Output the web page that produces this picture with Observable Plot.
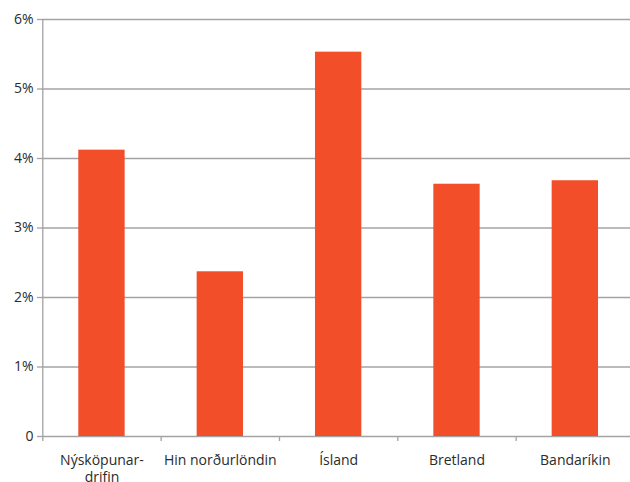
<!DOCTYPE html>
<html>
<head>
<meta charset="utf-8">
<script src="https://cdn.jsdelivr.net/npm/d3@7"></script>
<script src="https://cdn.jsdelivr.net/npm/@observablehq/plot@0.6"></script>
<style>
  html, body { margin: 0; padding: 0; background: #fff; }
  #chart svg { display: block; }
</style>
</head>
<body>
<div id="chart"></div>
<script>
const categories = ["Nýsköpunar-\ndrifin", "Hin norðurlöndin", "Ísland", "Bretland", "Bandaríkin"];
const values = [4.12, 2.37, 5.53, 3.63, 3.68];
const yTicks = [0, 1, 2, 3, 4, 5, 6];
const bandEdges = [0, 1, 2, 3, 4, 5];

const data = categories.map((c, i) => ({ i, c, v: values[i] }));
const gray = "#a3a3a3";
const textColor = "#2b2b2b";

const chart = Plot.plot({
  width: 630,
  height: 482,
  marginLeft: 42,
  marginRight: 0,
  marginTop: 19,
  marginBottom: 46,
  style: { fontFamily: "'Open Sans', sans-serif", fontSize: "14px", color: textColor, background: "#fff" },
  x: { domain: [0, 5], range: [42.3, 634], axis: null },
  y: { domain: [0, 6], axis: null },
  marks: [
    Plot.ruleY(yTicks, { stroke: gray, strokeWidth: 1.3 }),
    Plot.axisY({
      ticks: yTicks,
      tickFormat: d => d === 0 ? "0" : d + "%",
      tickSize: 5,
      tickPadding: 4,
      stroke: gray,
      strokeWidth: 1.3,
      strokeOpacity: 1,
      fill: textColor,
      fontSize: 14,
      label: null
    }),
    Plot.rectY(data, {
      x1: d => d.i,
      x2: d => d.i + 1,
      y: "v",
      insetLeft: 36,
      insetRight: 36,
      fill: "#f24e2a"
    }),
    Plot.axisX({
      ticks: bandEdges,
      tickFormat: () => "",
      tickSize: 5,
      stroke: gray,
      strokeWidth: 1.3,
      strokeOpacity: 1,
      label: null
    }),
    Plot.ruleX([0], { y1: 0, y2: 6, stroke: gray, strokeWidth: 1.3 }),
    Plot.text(data, {
      x: d => d.i + 0.5,
      y: 0,
      text: "c",
      lineAnchor: "top",
      dy: 17,
      lineHeight: 1.2,
      fill: textColor,
      fontSize: 14
    })
  ]
});
document.getElementById("chart").appendChild(chart);
</script>
</body>
</html>
